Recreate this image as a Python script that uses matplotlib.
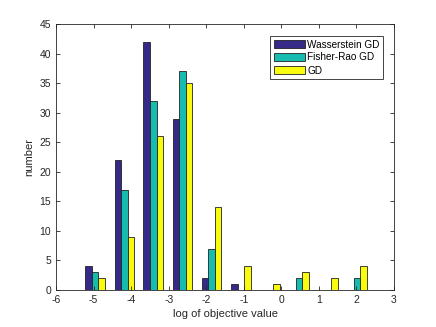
import matplotlib
matplotlib.use("Agg")
import matplotlib.pyplot as plt
import numpy as np

plt.rcParams['font.family'] = ['Liberation Sans', 'DejaVu Sans']
plt.rcParams['axes.unicode_minus'] = False

bin_centers = [-4.96, -4.18, -3.41, -2.63, -1.86, -1.08, -0.30, 0.47, 1.24, 2.02]
wasserstein = [4, 22, 42, 29, 2, 1, 0, 0, 0, 0]
fisher_rao = [3, 17, 32, 37, 7, 0, 0, 2, 0, 2]
gd = [2, 9, 26, 35, 14, 4, 1, 3, 2, 4]
series_names = ['Wasserstein GD', 'Fisher-Rao GD', 'GD']
colors = ['#352a87', '#17bcb0', '#f9fb0e']
xticks = [-6, -5, -4, -3, -2, -1, 0, 1, 2, 3]
yticks = [0, 5, 10, 15, 20, 25, 30, 35, 40, 45]

fig = plt.figure(figsize=(4.36, 3.27), dpi=100)
ax = fig.add_axes([56/436, 37/327, (394-56)/436, (290-24)/327])

w = 0.174
x = np.array(bin_centers)
for i, (vals, name, c) in enumerate(zip([wasserstein, fisher_rao, gd], series_names, colors)):
    ax.bar(x + (i - 1) * w, vals, width=w, color=c, edgecolor='#222222', linewidth=0.6, label=name)

ax.set_xlim(-6, 3)
ax.set_ylim(0, 45)
ax.set_xticks(xticks)
ax.set_yticks(yticks)
ax.tick_params(direction='in', top=True, right=True, labelsize=7.5, length=3, width=0.6, colors='#262626')
for s in ax.spines.values():
    s.set_linewidth(0.6)
    s.set_color('#262626')
ax.set_xlabel('log of objective value', fontsize=8, color='#262626', labelpad=3)
ax.set_ylabel('number', fontsize=8, color='#262626', labelpad=4)

leg = ax.legend(loc='upper right', bbox_to_anchor=(1 - 11/338, 1 - 12/266), fontsize=7.2, frameon=True, fancybox=False,
                framealpha=1, edgecolor='#262626', handlelength=3.1, handleheight=0.8,
                borderpad=0.35, labelspacing=0.3, handletextpad=0.25, borderaxespad=0)
leg.get_frame().set_linewidth(0.6)

fig.savefig('out.png', dpi=100)
